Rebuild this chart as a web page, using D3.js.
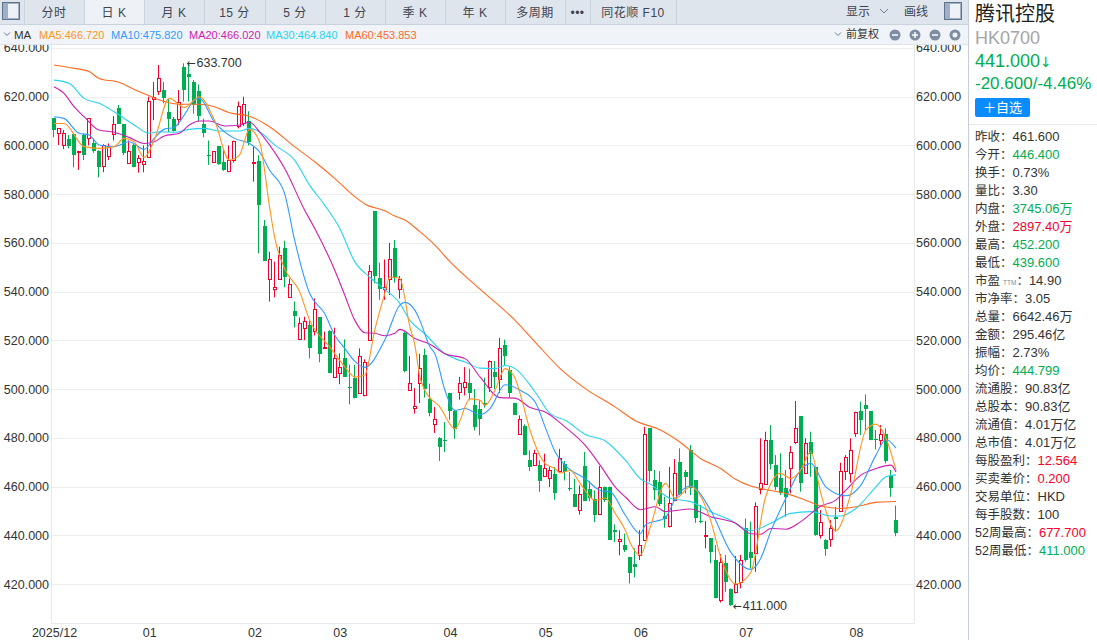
<!DOCTYPE html>
<html>
<head>
<meta charset="utf-8">
<script src="https://cdn.jsdelivr.net/npm/d3@7"></script>
<style>
  html, body { margin: 0; padding: 0; background: #fff; overflow: hidden; }
  text { font-family: "Liberation Sans", "Noto Sans CJK SC", sans-serif; }
</style>
</head>
<body>
<svg id="chart" width="1097" height="640"></svg>
<script>
// Candles, one entry per trading day
const opens = [
  611.1,605,599.9,602.6,604.7,597.2,604.3,602.9,600.8,597.7,
  591.7,595.8,605,615.5,608.8,592.9,600.2,593.3,592.6,595.4,
  618.9,622,622.7,613.6,611,611,632,629.3,625.9,622.3,
  608.8,596,593,599.8,593,589.6,594,607.7,609.3,610,
  592.9,593.6,566.9,545,541,545,557.8,537.6,531.9,520.4,
  524.9,526.2,523.6,529.4,517,523.8,505,506.5,512.6,501,
  504.7,498.7,497.6,520.1,573.1,545.4,541,544.8,557.8,541.3,
  522.9,499.8,492.4,502.5,513.8,495.8,485.8,479.8,479,498.5,
  491,498.9,500.8,502.6,493.3,492,494.3,500.8,506.9,504.3,
  518,508,494.4,481.7,484.7,470.8,468.8,468.7,464.3,463.5,
  465.3,466.6,469.4,459.5,456.8,450.5,468.6,458.9,455,448.9,
  460,460,442,437.6,436,431.2,428.2,432.1,438,483.9,
  462.7,461.7,447.9,443.5,454.4,469.9,465.8,475,462.7,445.7,
  440,438.7,429.8,413.4,428.7,417.8,416.8,420.9,442.8,433.2,
  432.6,459,461,479.1,468.8,463.3,459.6,467.4,478,488.9,
  465.4,478.2,467.9,439.8,438,438.4,447.6,449.7,466.1,465.8,
  481.8,491,493.4,491,479.4,478.8,481.4,464.4,446.4
];
const closes = [
  606,607,605,599.8,596,597.8,596,611.1,597.7,591.3,
  600.2,599.9,609,608.8,596.7,597.8,591,595,593.7,618.2,
  619.7,627.5,619.6,610.8,606,618,622.5,628,616.6,612.2,
  605,595.8,597.6,592.6,589.6,594,602,616,617,601.5,
  593.3,575.5,552.6,553.2,542,554.9,545.7,543,530,527,
  527.8,516.6,532.7,514.4,517.3,506.7,512.6,508.9,505,500.8,
  496.5,513.7,511,548.3,546.5,541,542,553.2,545.4,545.3,
  507.4,502.6,493.2,508.8,499.9,489.9,487.9,476.2,478.4,491,
  483.7,502.6,503,498.7,484.4,487.9,493.5,511.5,504.8,517,
  513.6,498.4,489.6,487.9,472.8,467.9,473.9,462.1,467.7,466.9,
  457.3,471.8,466,459,451.6,457.1,454.3,455.4,448.6,459.8,
  454.8,438.3,441,438.6,433.9,424.6,427.1,436,481.4,466.1,
  458.5,452.8,446.5,453.1,465.4,456.9,463.6,459.2,447.2,445.1,
  440.3,432.8,414.4,429,420.9,411.4,420.2,429.8,429.5,430.8,
  452,461.3,479.1,469.2,459.6,457.2,455.8,474,483.9,461.6,
  477.7,473.3,440.1,445.3,434.3,442.8,446.8,466.3,472,475.2,
  490.4,487.3,491.8,479.1,478.8,481.4,470.5,459.6,441
];
const highs = [
  611.1,607,606.3,604.3,604.7,597.8,604.8,611.1,602.9,598,
  600.5,600.8,612,616.6,608.8,602,600.9,596,600,620,
  626,633,626,619,611.7,622.7,633.7,633,626.8,625,
  611,602,597.6,599.8,598,600,602,618,620,614,
  599.5,596,569.4,556.4,552.3,558.4,560.9,545.4,535.9,529.4,
  529.7,528.3,537.2,529.4,523.6,524.2,525.2,514.7,520.4,510,
  510,516.7,512.2,550.9,573.1,551.9,553.2,560,561.2,546.4,
  523.6,513.6,500.4,514.5,516.6,502.2,492.6,480.3,486.5,498.5,
  491.5,505,509,508.4,500,495.4,504.7,511.8,511.5,521,
  520.3,509,494.4,489.2,485.5,474.9,475.1,470.8,473.5,468.3,
  468,475.5,470.5,466,463.2,460.5,474.2,462.3,458.4,468.4,
  460,460,444.5,442,440.7,431.2,434.6,442.1,484.5,483.9,
  466.8,466.3,455.8,468.1,471.3,475.7,466.8,477,462.7,452.4,
  445.8,438.7,436,432.3,431.9,418.2,431.5,431.9,446.9,445.6,
  453.5,479.8,482.5,485.2,472.9,473.6,466.8,476.6,495.1,488.9,
  479.8,482.5,467.9,450.3,438.4,446.2,451.7,469.8,472.9,479.8,
  490.7,494.8,497.8,491,483.2,485.2,483.9,466.8,452.2
];
const lows = [
  603.3,600.2,598.5,598.8,591,590,594,600,597,586.9,
  589,594,602,608.8,596,592.6,591,588.8,589,595.4,
  610.4,620.7,617.3,605.5,605.7,608.4,618,618,613,609.7,
  603.3,592,593,592,589.6,589,593,607,608,600,
  585.1,555.7,552.6,535.9,537.6,544.8,541.8,537.6,525.3,520.1,
  520.1,512.6,522,511,516.7,506.5,505,502,505,493.7,
  496.2,498.3,497,519.9,543.4,536.6,536.6,538.6,543.7,537.2,
  506.9,499.8,489.9,494.3,496.5,488.8,482,470.5,474.2,487.4,
  479.6,495.6,497.4,495.4,483,481,492.4,498.8,500,498.4,
  509.7,496.5,489.6,481.7,472.8,466.4,468.8,457.8,464.3,459.8,
  454.6,466.6,462.5,458.2,451.6,448.5,454.3,454,445.4,448.6,
  453.7,438.3,437.2,431.8,433.1,420.2,422.7,429.8,437.8,462,
  454.4,452,443.1,443.2,454.4,456.5,457.2,456.5,445.1,444.9,
  434.6,428.5,414.1,412.4,416.8,411,416.1,418.2,429.1,426.4,
  425,456.8,460.6,467,458.5,456.5,447.6,457.2,477.4,457.9,
  465.1,464,439.8,438.7,431.6,435.3,441.5,449.7,462.7,461.6,
  480.4,481.1,483.2,479,475.2,477,469.5,455.8,439.6
];

// Moving averages as [day, value]
const ma5 = [
  [0,609],[2,609],[6,599.5],[9,598.8],[12,599.5],[14,602.9],[16,601.5],[18,595.1],[20,602.2],[23,619.3],
  [26,615.6],[29,620],[32,610.4],[35,594],[37,596],[39,606.6],[41,601.5],[43,574.9],[44,562.5],[46,549.5],
  [49,540],[51,528.3],[55,517.4],[58,509.2],[60,505],[62,505.8],[64,524.2],[66,539.3],[67,546],[69,545.4],
  [71,525.6],[72,518],[73,505],[74,499.5],[77,492.6],[80,483.7],[83,496],[85,495.4],[86,493.3],[88,499.5],
  [90,508.4],[92,504.3],[93,498.1],[95,483],[98,469.4],[100,467.3],[101,465.6],[103,466.6],[105,461.2],[108,454.3],
  [110,455.3],[112,448.9],[114,442],[115,436.7],[117,431.9],[119,443.5],[122,461.3],[124,455.1],[127,459.9],[131,446.2],
  [133,431.2],[136,420],[139,424.6],[142,455.8],[145,465.4],[147,463.3],[149,466.8],[151,474.3],[153,457.2],[156,441.9],
  [159,457.2],[162,483.2],[164,485.6],[166,479.8],[168,466.7]
];
const ma10 = [
  [0,611.8],[2,611.1],[5,605],[7,604.3],[9,600.2],[12,599.5],[15,601.5],[18,598.4],[20,602.9],[22,606.7],
  [24,607.4],[26,612.5],[28,618.6],[29,619.3],[32,609.7],[36,602.9],[39,600.8],[41,597.4],[43,589.9],[46,580.3],
  [48,561.2],[51,539.3],[54,531],[56,522.2],[58,516.7],[60,511.5],[62,508.9],[66,520.1],[69,534.5],[70,535.6],
  [72,532.4],[73,528.2],[75,517.4],[76,514.5],[78,499.5],[80,491.3],[82,492],[85,489.5],[87,492],[90,501.8],
  [93,499.5],[96,494.7],[98,484.4],[100,474.2],[102,468.7],[106,463.2],[109,458.4],[111,457.8],[114,448.2],[117,440.6],
  [118,444.2],[122,447.3],[124,455.1],[127,460.2],[131,450.3],[135,433.2],[139,426],[141,430.5],[143,441.5],[146,455.1],
  [149,466.8],[151,469.5],[154,459.9],[158,456.2],[161,460.6],[164,472.9],[166,479.3],[168,475.8]
];
const ma20 = [
  [0,624.1],[2,621.4],[4,615.9],[6,611.8],[9,606.3],[12,605.4],[15,603.3],[18,600.8],[20,601.5],[22,603.9],
  [25,605],[27,608.4],[29,610],[31,610],[34,608],[37,608.4],[39,609.5],[41,605.6],[43,600.2],[46,590.6],
  [50,573.5],[52,566],[56,548.9],[58,538.6],[60,528.3],[62,523.1],[64,522.9],[66,521.9],[68,522.9],[69,524.5],
  [72,520.8],[75,518.4],[78,514.5],[82,512.5],[85,505],[89,496.5],[92,496.3],[95,492.4],[98,490.6],[102,484.4],
  [106,476.9],[109,468.7],[112,459.8],[114,455.7],[117,450.5],[120,451.7],[122,449.7],[127,450.8],[131,447.6],[136,444.9],
  [139,440.6],[141,440.4],[143,442.8],[146,442.5],[149,445.6],[153,452],[156,454.4],[158,458.5],[161,464.7],[164,467.4],
  [167,468.8],[168,466]
];
const ma30 = [
  [0,626.8],[3,625.5],[6,619.3],[9,617.3],[12,613.8],[16,608.4],[19,605],[21,605.6],[24,605.4],[27,606.6],
  [30,607],[33,605.9],[37,605.9],[39,607],[41,605.6],[44,600.2],[48,594],[51,583.7],[54,575.5],[57,566],
  [60,552.3],[63,545.9],[66,540.9],[69,535.2],[71,528.2],[74,522.7],[78,514.5],[80,512.5],[82,511.1],[85,508.6],
  [88,508.4],[90,509.7],[92,508.4],[96,498.8],[99,489.9],[102,487.2],[106,481.4],[110,478.7],[114,470.8],[117,463.2],
  [119,461],[123,455.1],[127,453.8],[131,449.7],[135,446.2],[139,441.9],[143,444.9],[147,449],[151,449.7],[155,447.9],
  [157,447.9],[160,451],[164,459.9],[166,464],[168,464.8]
];
const ma60 = [
  [0,633],[3,632],[7,630.3],[9,627.5],[13,625.9],[16,623],[19,620.4],[22,618],[25,616.9],[29,616.9],
  [32,615.9],[35,613.4],[39,612],[43,607.7],[48,599.5],[52,593.3],[56,586.5],[60,579],[62,576],[66,573.2],
  [68,571],[70,569.4],[73,564.6],[76,559.1],[79,552.3],[85,541],[92,528.2],[96,519.3],[101,508.4],[106,500.2],
  [112,492.6],[116,487],[121,483.2],[125,478.1],[129,471.5],[133,467.4],[136,463],[139,460.2],[142,458.8],[146,457.2],
  [150,454.4],[153,452],[157,451],[160,451.7],[164,453.5],[168,453.85]
];

// Axis ticks
const yTicks = [640, 620, 600, 580, 560, 540, 520, 500, 480, 460, 440, 420];
const monthDays = [0, 19, 40, 57, 79, 98, 117, 138, 160];
const monthLabels = ['2025/12', '01', '02', '03', '04', '05', '06', '07', '08'];

// Legend of the moving averages
const maNames = ['MA5:466.720', 'MA10:475.820', 'MA20:466.020', 'MA30:464.840', 'MA60:453.853'];

// Toolbar
const toolItems = ['分时', '日 K', '月 K', '15 分', '5 分', '1 分', '季 K', '年 K', '多周期', '•••', '同花顺 F10'];
const toolEdges = [24, 84, 144, 204, 265, 325, 385, 445, 505, 565, 590, 676];

// Quote panel rows: label, value, colour key
const panelLabels = ['昨收：', '今开：', '换手：', '量比：', '内盘：', '外盘：', '最高：', '最低：', '市盈TTM：', '市净率：', '总量：', '金额：', '振幅：', '均价：', '流通股：', '总股本：', '流通值：', '总市值：', '每股盈利：', '买卖差价：', '交易单位：', '每手股数：', '52周最高：', '52周最低：'];
const panelValues = ['461.600', '446.400', '0.73%', '3.30', '3745.06万', '2897.40万', '452.200', '439.600', '14.90', '3.05', '6642.46万', '295.46亿', '2.73%', '444.799', '90.83亿', '90.83亿', '4.01万亿', '4.01万亿', '12.564', '0.200', 'HKD', '100', '677.700', '411.000'];
const panelTones = ['n', 'g', 'n', 'n', 'g', 'r', 'g', 'g', 'n', 'n', 'n', 'n', 'n', 'g', 'n', 'n', 'n', 'n', 'r', 'r', 'n', 'n', 'r', 'g'];

const RED = '#f5002d';
const GREEN = '#00ad50';
const maColors = ['#ff9420', '#2f9bff', '#cc1fb0', '#26d3ee', '#ff6a1f'];

const svg = d3.select('#chart');

const x = d3.scaleLinear().domain([0, 168]).range([54, 896]);
const y = d3.scaleLinear().domain([420, 620]).range([584, 96.7]);

// Grid and frame
svg.append('g').selectAll('line').data(yTicks).join('line')
  .attr('x1', 51).attr('x2', 914.5)
  .attr('y1', d => Math.round(y(d)) + 0.5).attr('y2', d => Math.round(y(d)) + 0.5)
  .attr('stroke', '#eeeeee');
svg.append('path')
  .attr('d', 'M51.5,44V623.5H914.5V44')
  .attr('fill', 'none').attr('stroke', '#e6e9ee');

// Price axes on both sides
const axisLeft = svg.append('g').attr('transform', 'translate(50,0)')
  .call(d3.axisLeft(y).tickValues(yTicks).tickFormat(d3.format('.3f')).tickSize(0).tickPadding(1));
const axisRight = svg.append('g').attr('transform', 'translate(915,0)')
  .call(d3.axisRight(y).tickValues(yTicks).tickFormat(d3.format('.3f')).tickSize(0).tickPadding(1));
const axisBottom = svg.append('g').attr('transform', 'translate(0,625)')
  .call(d3.axisBottom(x).tickValues(monthDays).tickFormat((d, i) => monthLabels[i]).tickSize(0).tickPadding(3));
[axisLeft, axisRight, axisBottom].forEach(a => {
  a.select('.domain').remove();
  a.selectAll('text').attr('fill', '#333').style('font-size', '12.5px').style('font-family', '"Liberation Sans", sans-serif');
});

// Candles
const days = d3.range(opens.length);
const isUp = i => closes[i] >= opens[i];
const candles = svg.append('g').selectAll('g').data(days).join('g');
candles.append('line')
  .attr('x1', i => Math.round(x(i)) - 0.5).attr('x2', i => Math.round(x(i)) - 0.5)
  .attr('y1', i => y(highs[i])).attr('y2', i => y(lows[i]))
  .attr('stroke', i => isUp(i) ? RED : GREEN);
candles.append('rect')
  .attr('x', i => Math.round(x(i)) - (isUp(i) ? 1.5 : 2))
  .attr('width', i => isUp(i) ? 3 : 4)
  .attr('y', i => Math.round(y(Math.max(opens[i], closes[i]))) + (isUp(i) ? 0.5 : 0))
  .attr('height', i => Math.max(1, Math.round(Math.abs(y(opens[i]) - y(closes[i])))))
  .attr('fill', i => isUp(i) ? '#fff' : GREEN)
  .attr('stroke', i => isUp(i) ? RED : 'none');

// Moving average lines
const maLine = d3.line().x(d => x(d[0])).y(d => y(d[1])).curve(d3.curveMonotoneX);
[ma60, ma30, ma20, ma10, ma5].forEach((series, i) => {
  svg.append('path').datum(series)
    .attr('fill', 'none')
    .attr('stroke', maColors[4 - i])
    .attr('stroke-width', 1.1)
    .attr('d', maLine);
});

// Extreme price notes
function priceNote(day, price, yOffset, label) {
  const note = svg.append('text')
    .attr('x', x(day) + 2).attr('y', y(price) + yOffset)
    .attr('fill', '#333').style('font-size', '12.5px');
  note.append('tspan').style('font-family', '"DejaVu Sans"').style('font-size', '11px').text('←');
  note.append('tspan').attr('dx', 1).text(label);
}
priceNote(26, 633.7, 4, '633.700');
priceNote(135, 411, 4, '411.000');

// Toolbar, drawn over the chart so the top tick is cut off
svg.append('rect').attr('width', 968).attr('height', 25).attr('fill', '#dfe5ec');
svg.append('rect').attr('y', 25).attr('width', 968).attr('height', 20).attr('fill', '#f0f4f8');
svg.append('rect').attr('x', 84).attr('width', 60).attr('height', 24).attr('fill', '#eef2f6');
svg.append('line').attr('x1', 0).attr('x2', 968).attr('y1', 24.5).attr('y2', 24.5).attr('stroke', '#c9d2dc');
svg.append('line').attr('x1', 0).attr('x2', 968).attr('y1', 44.5).attr('y2', 44.5).attr('stroke', '#dfe4ea');
svg.append('g').selectAll('line').data(toolEdges).join('line')
  .attr('x1', d => d + 0.5).attr('x2', d => d + 0.5).attr('y1', 0).attr('y2', 24)
  .attr('stroke', '#cbd3dc');
svg.append('g').selectAll('text').data(toolItems).join('text')
  .attr('x', (d, i) => (toolEdges[i] + toolEdges[i + 1]) / 2)
  .attr('y', 17).attr('text-anchor', 'middle')
  .attr('fill', '#3d4450').style('font-size', '12px').style('letter-spacing', '0.5px')
  .text(d => d);

// Panel toggle icons
function panelIcon(px) {
  svg.append('rect').attr('x', px + 0.5).attr('y', 2.5).attr('width', 17).attr('height', 17)
    .attr('fill', '#9fb0c4').attr('stroke', '#5f738c').attr('stroke-width', 1);
  svg.append('rect').attr('x', px + 6).attr('y', 4).attr('width', 10).attr('height', 14).attr('fill', '#eef2f6');
}
panelIcon(2);
panelIcon(944);

svg.append('text').attr('x', 846).attr('y', 16).attr('fill', '#3d4450').style('font-size', '12px').text('显示');
svg.append('text').attr('x', 904).attr('y', 16).attr('fill', '#3d4450').style('font-size', '12px').text('画线');
const chevron = (cx, cy, s) => svg.append('path')
  .attr('d', `M${cx - s},${cy - s / 2}L${cx},${cy + s / 2}L${cx + s},${cy - s / 2}`)
  .attr('fill', 'none').attr('stroke', '#6d7a8c').attr('stroke-width', 1);
chevron(884, 11, 4);
chevron(7, 34, 3);
chevron(838, 34, 3);

// Legend row
svg.append('text').attr('x', 14).attr('y', 39).attr('fill', '#333').style('font-size', '11.5px').text('MA');
const legendX = [39, 111, 189, 266, 345];
svg.append('g').selectAll('text').data(maNames).join('text')
  .attr('x', (d, i) => legendX[i]).attr('y', 39)
  .attr('fill', (d, i) => maColors[i]).style('font-size', '11px')
  .text(d => d);
svg.append('text').attr('x', 846).attr('y', 38).attr('fill', '#333').style('font-size', '11px').text('前复权');

// Zoom buttons
const zoomIcons = [895, 915, 935];
svg.append('g').selectAll('circle').data(zoomIcons).join('circle')
  .attr('cx', d => d).attr('cy', 35).attr('r', 5.5).attr('fill', '#7f8da3');
svg.append('g').selectAll('line').data(zoomIcons).join('line')
  .attr('x1', d => d - 3).attr('x2', d => d + 3).attr('y1', 35).attr('y2', 35)
  .attr('stroke', '#fff').attr('stroke-width', 1.5);
svg.append('line').attr('x1', 915).attr('x2', 915).attr('y1', 32).attr('y2', 38)
  .attr('stroke', '#fff').attr('stroke-width', 1.5);
svg.append('circle').attr('cx', 955).attr('cy', 35).attr('r', 4).attr('fill', 'none')
  .attr('stroke', '#7f8da3').attr('stroke-width', 3);

// Quote panel
svg.append('line').attr('x1', 968.5).attr('x2', 968.5).attr('y1', 0).attr('y2', 640).attr('stroke', '#c5ced8');
svg.append('line').attr('x1', 969).attr('x2', 1097).attr('y1', 124.5).attr('y2', 124.5).attr('stroke', '#e6e9ee');
svg.append('text').attr('x', 975).attr('y', 21).attr('fill', '#222').style('font-size', '20px').text('腾讯控股');
svg.append('text').attr('x', 975).attr('y', 44).attr('fill', '#a5a5a5').style('font-size', '18px').text('HK0700');
const lastPrice = svg.append('text').attr('x', 975).attr('y', 67).attr('fill', GREEN).style('font-size', '18px');
lastPrice.append('tspan').text('441.000');
lastPrice.append('tspan').style('font-family', '"DejaVu Sans"').style('font-size', '14px').text('↓');
svg.append('text').attr('x', 975).attr('y', 89).attr('fill', GREEN).style('font-size', '17px').text('-20.600/-4.46%');
svg.append('rect').attr('x', 975).attr('y', 98).attr('width', 55).attr('height', 19).attr('rx', 2).attr('fill', '#0a8cff');
svg.append('text').attr('x', 1002.5).attr('y', 112).attr('text-anchor', 'middle').attr('fill', '#fff').style('font-size', '13px').text('＋自选');

const toneColor = { n: '#333', g: GREEN, r: RED };
const rowY = d3.scaleLinear().domain([0, 23]).range([141, 555]);
const rows = svg.append('g').selectAll('text').data(panelLabels).join('text')
  .attr('x', 975).attr('y', (d, i) => rowY(i)).attr('fill', '#333').style('font-size', '12.5px');
rows.each(function (d, i) {
  const row = d3.select(this);
  const parts = d.split('TTM');
  row.append('tspan').text(parts[0]);
  if (parts.length > 1) {
    row.append('tspan').attr('dx', 3).attr('fill', '#888').style('font-size', '6.5px').text('TTM');
    row.append('tspan').text(parts[1]);
  }
  row.append('tspan').style('font-size', '13px')
    .attr('fill', toneColor[panelTones[i]]).text(panelValues[i]);
});
</script>
</body>
</html>
